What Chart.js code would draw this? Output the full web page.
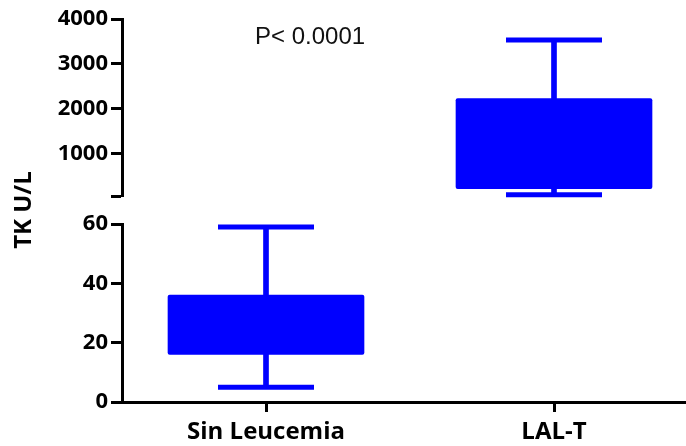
<!DOCTYPE html>
<html>
<head>
<meta charset="utf-8">
<script src="https://cdn.jsdelivr.net/npm/chart.js@4.4.1/dist/chart.umd.min.js"></script>
<style>
  html, body { margin: 0; padding: 0; background: #fff; overflow: hidden; }
  canvas { display: block; }
</style>
</head>
<body>
<canvas id="tk" width="698" height="446"></canvas>
<script>
// groups and box plot values (TK, U/L)
const categories = ['Sin Leucemia', 'LAL-T']
const mins = [5, 87]
const q1s = [16, 225]
const q3s = [36, 2230]
const maxs = [59, 3530]

// broken axis: lower part 0-60, upper part 60-4000
const breakValue = 60
const lowTicks = [0, 20, 40, 60]
const highTicks = [60, 1000, 2000, 3000, 4000]
const highMax = 4000

const blue = '#0000ff'
const axisFont = { family: 'Open Sans', weight: 'bold', size: 22 }

const isHigh = i => maxs[i] > breakValue

function onAxis(high) {
    // keep only the groups that belong to this part of the axis
    return {
        box: categories.map((c, i) => isHigh(i) === high ? [q1s[i], q3s[i]] : null),
        whisker: categories.map((c, i) => isHigh(i) === high ? [mins[i], maxs[i]] : null)
    }
}

const low = onAxis(false)
const high = onAxis(true)

function barSet(data, axis, thickness) {
    return {
        type: 'bar', data, yAxisID: axis, backgroundColor: blue, borderWidth: 0,
        barThickness: thickness, borderRadius: thickness > 10 ? 2 : 0, borderSkipped: false, grouped: false
    }
}

function yAxis(extra) {
    return Object.assign({
        type: 'linear', axis: 'y', position: 'left', stack: 'tk',
        grid: { drawOnChartArea: false, drawTicks: true, tickLength: 11, tickWidth: 3, color: '#000' },
        border: { display: true, width: 3, color: '#000' },
        ticks: { color: '#000', font: axisFont, padding: 3, autoSkip: false },
        afterFit: s => { s.width = 122 }
    }, extra)
}

// whisker caps at min and max, placed with the chart's own scales
const caps = {
    id: 'caps',
    afterDatasetsDraw(chart) {
        const ctx = chart.ctx
        const x = chart.scales.x
        ctx.save()
        ctx.strokeStyle = blue
        ctx.lineWidth = 5
        categories.forEach((c, i) => {
            const y = chart.scales[isHigh(i) ? 'yHigh' : 'yLow']
            const cx = x.getPixelForValue(i)
            ;[mins[i], maxs[i]].forEach(v => {
                const py = y.getPixelForValue(v)
                ctx.beginPath()
                ctx.moveTo(cx - 48, py)
                ctx.lineTo(cx + 48, py)
                ctx.stroke()
            })
        })
        ctx.restore()
    }
}

const pLabel = {
    id: 'pLabel',
    afterDraw(chart) {
        const ctx = chart.ctx
        ctx.save()
        ctx.font = '24px "Liberation Sans"'
        ctx.fillStyle = '#111'
        ctx.textBaseline = 'alphabetic'
        ctx.fillText('P< 0.0001', 255, 44)
        ctx.restore()
    }
}

new Chart(document.getElementById('tk'), {
    type: 'bar',
    data: {
        labels: categories,
        datasets: [
            barSet(low.whisker, 'yLow', 5),
            barSet(low.box, 'yLow', 196),
            barSet(high.whisker, 'yHigh', 5),
            barSet(high.box, 'yHigh', 196)
        ]
    },
    options: {
        responsive: false,
        animation: false,
        events: [],
        layout: { padding: { top: 19, right: 0, left: 0, bottom: 0 } },
        plugins: { legend: { display: false }, tooltip: { enabled: false } },
        scales: {
            x: {
                grid: { display: true, offset: false, drawOnChartArea: false, tickLength: 10, tickWidth: 3, color: '#000' },
                border: { display: true, width: 3, color: '#000' },
                ticks: { color: '#000', font: { family: 'Open Sans', weight: 'bold', size: 24 }, padding: 6 },
                afterFit: s => { s.height = 44 }
            },
            yLow: yAxis({
                min: 0, max: breakValue, stackWeight: 178,
                afterBuildTicks: s => { s.ticks = lowTicks.map(v => ({ value: v })) }
            }),
            yGap: yAxis({
                min: 0, max: 1, stackWeight: 28,
                grid: { display: false },
                border: { display: false },
                ticks: { display: false },
                title: { display: true, text: 'TK U/L', color: '#000', padding: 10,
                    font: { family: 'Open Sans', weight: 'bold', size: 24 } }
            }),
            yHigh: yAxis({
                min: breakValue, max: highMax, stackWeight: 177,
                afterBuildTicks: s => { s.ticks = highTicks.map(v => ({ value: v })) },
                ticks: { color: '#000', font: axisFont, padding: 3, autoSkip: false,
                    callback: v => v === breakValue ? '' : v }
            })
        }
    },
    plugins: [caps, pLabel]
})
</script>
</body>
</html>
